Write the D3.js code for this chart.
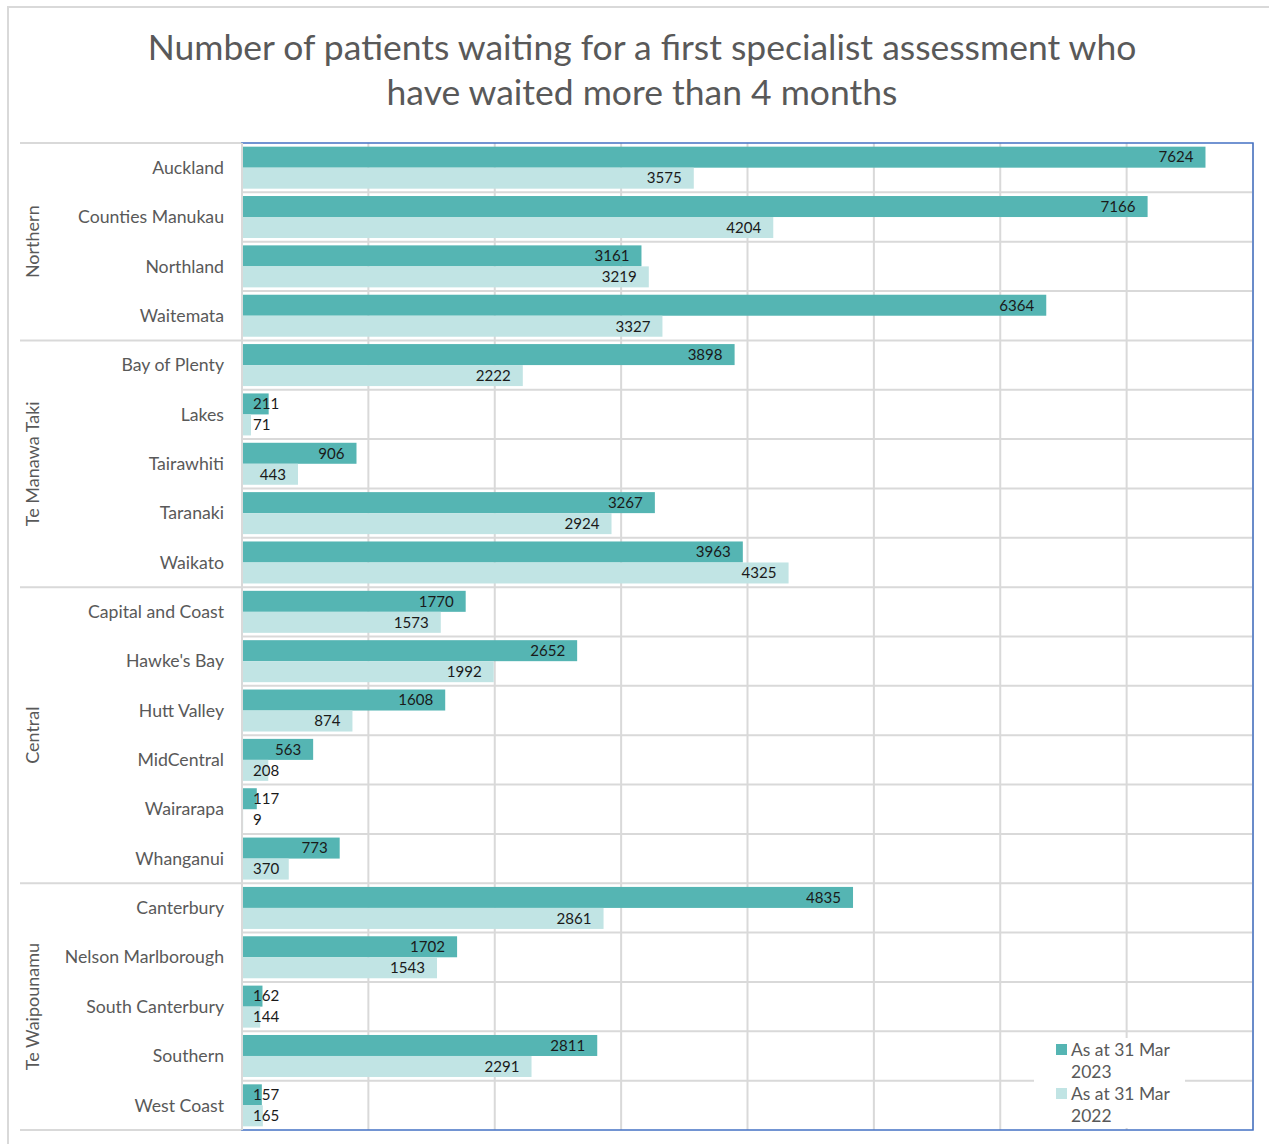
<!DOCTYPE html>
<html><head><meta charset="utf-8">
<script src="https://cdn.jsdelivr.net/npm/d3@7"></script>
<style>body{margin:0;background:#fff;} svg{display:block;}</style>
</head><body>
<svg id="c" width="1269" height="1144"></svg>
<script>
const titleLines = ["Number of patients waiting for a first specialist assessment who", "have waited more than 4 months"];
const groups = ["Northern", "Te Manawa Taki", "Central", "Te Waipounamu"];
const groupSizes = [4, 5, 6, 5];
const categories = ["Auckland","Counties Manukau","Northland","Waitemata","Bay of Plenty","Lakes","Tairawhiti","Taranaki","Waikato","Capital and Coast","Hawke's Bay","Hutt Valley","MidCentral","Wairarapa","Whanganui","Canterbury","Nelson Marlborough","South Canterbury","Southern","West Coast"];
const seriesNames = ["As at 31 Mar 2023", "As at 31 Mar 2022"];
const values2023 = [7624,7166,3161,6364,3898,211,906,3267,3963,1770,2652,1608,563,117,773,4835,1702,162,2811,157];
const values2022 = [3575,4204,3219,3327,2222,71,443,2924,4325,1573,1992,874,208,9,370,2861,1543,144,2291,165];
const colors = ["#55B5B3", "#C1E4E4"];

const FONT = "Lato, 'Open Sans', sans-serif";
const svg = d3.select("#c");
const W = 1269, H = 1144;
const plot = {x0: 242, x1: 1253, y0: 143, y1: 1130};

function fitSize(str, targetW, base, weight) {
  const t = svg.append("text").attr("font-family", FONT).attr("font-size", base).attr("font-weight", weight||400).text(str);
  const w = t.node().getComputedTextLength();
  t.remove();
  return base * targetW / w;
}
const titleSize = fitSize(titleLines[0], 989, 30, 400);
const catSize = fitSize("Counties Manukau", 146, 16);
const valSize = fitSize("7624", 35, 15);
const legSize = fitSize("As at 31 Mar", 99, 16);
const grpSize = fitSize("Te Manawa Taki", 125, 16);

svg.append("rect").attr("x", 8).attr("y", 7).attr("width", W + 20).attr("height", H + 20)
  .attr("fill", "#fff").attr("stroke", "#d9d9d9").attr("stroke-width", 2);

svg.append("g").selectAll("text").data(titleLines).join("text")
  .attr("x", 642).attr("y", (d, i) => 60 + i * 45)
  .attr("text-anchor", "middle").attr("font-family", FONT).attr("font-weight", 400)
  .attr("font-size", titleSize).attr("fill", "#595959").text(d => d);

const x = d3.scaleLinear().domain([0, 8000]).range([plot.x0, plot.x1]);
const y = d3.scaleBand().domain(categories).range([plot.y0, plot.y1]).padding(0);
const sub = d3.scaleBand().domain(seriesNames).range([0, y.bandwidth()]).paddingInner(0).paddingOuter(0.175);

svg.append("g").selectAll("line").data(x.ticks(8).filter(d => d > 0)).join("line")
  .attr("x1", d => x(d)).attr("x2", d => x(d)).attr("y1", plot.y0).attr("y2", plot.y1)
  .attr("stroke", "#d9d9d9").attr("stroke-width", 2);

svg.append("g").selectAll("line").data(categories.slice(1)).join("line")
  .attr("x1", plot.x0).attr("x2", plot.x1).attr("y1", d => y(d)).attr("y2", d => y(d))
  .attr("stroke", "#d9d9d9").attr("stroke-width", 2);

const groupStarts = [];
let acc = 0;
groupSizes.forEach(s => { groupStarts.push(acc); acc += s; });
const sepYs = groupStarts.map(i => y(categories[i])).concat([plot.y1]);
svg.append("g").selectAll("line").data(sepYs).join("line")
  .attr("x1", 20).attr("x2", plot.x0).attr("y1", d => d).attr("y2", d => d)
  .attr("stroke", "#d9d9d9").attr("stroke-width", 2);

const rows = categories.map((c, i) => ({c, v: [values2023[i], values2022[i]]}));
const barData = [];
rows.forEach(r => r.v.forEach((v, k) => barData.push({c: r.c, s: seriesNames[k], k, v})));
svg.append("g").selectAll("rect").data(barData).join("rect")
  .attr("x", x(0)).attr("y", d => y(d.c) + sub(d.s))
  .attr("width", d => x(d.v) - x(0)).attr("height", sub.bandwidth())
  .attr("fill", d => colors[d.k]);

svg.append("rect").attr("x", plot.x0).attr("y", plot.y0).attr("width", plot.x1 - plot.x0).attr("height", plot.y1 - plot.y0)
  .attr("fill", "none").attr("stroke", "#4472C4").attr("stroke-width", 1.5);
svg.append("line").attr("x1", plot.x0).attr("x2", plot.x0).attr("y1", plot.y0).attr("y2", plot.y1)
  .attr("stroke", "#d9d9d9").attr("stroke-width", 2);

const lbl = svg.append("g").selectAll("text").data(barData).join("text")
  .attr("y", d => y(d.c) + sub(d.s) + sub.bandwidth() / 2)
  .attr("dy", "0.35em").attr("font-family", FONT).attr("font-size", valSize)
  .attr("fill", "#1a1a1a").text(d => d.v);
lbl.each(function(d) {
  const w = this.getComputedTextLength();
  const xs = Math.max(plot.x0 + 11, x(d.v) - 12 - w);
  d3.select(this).attr("x", xs);
});

svg.append("g").selectAll("text").data(categories).join("text")
  .attr("x", 224).attr("y", d => y(d) + y.bandwidth() / 2)
  .attr("dy", "0.35em").attr("text-anchor", "end").attr("font-family", FONT)
  .attr("font-size", catSize).attr("fill", "#595959").text(d => d);

svg.append("g").selectAll("text").data(groups).join("text")
  .attr("transform", (d, i) => {
    const cy = (sepYs[i] + sepYs[i + 1]) / 2;
    return `translate(33,${cy}) rotate(-90)`;
  })
  .attr("dy", "0.35em").attr("text-anchor", "middle").attr("font-family", FONT)
  .attr("font-size", grpSize).attr("fill", "#595959").text(d => d);

const leg = svg.append("g");
leg.append("rect").attr("x", 1034).attr("y", 1038).attr("width", 151).attr("height", 90).attr("fill", "#fff");
const legLines = [["As at 31 Mar", "2023"], ["As at 31 Mar", "2022"]];
legLines.forEach((lines, i) => {
  const gy = 1050 + i * 44;
  leg.append("rect").attr("x", 1056).attr("y", gy - 6).attr("width", 11).attr("height", 11).attr("fill", colors[i]);
  lines.forEach((t, j) => {
    leg.append("text").attr("x", 1071).attr("y", gy + j * 22).attr("dy", "0.35em")
      .attr("font-family", FONT).attr("font-size", legSize).attr("fill", "#595959").text(t);
  });
});
</script>
</body></html>
